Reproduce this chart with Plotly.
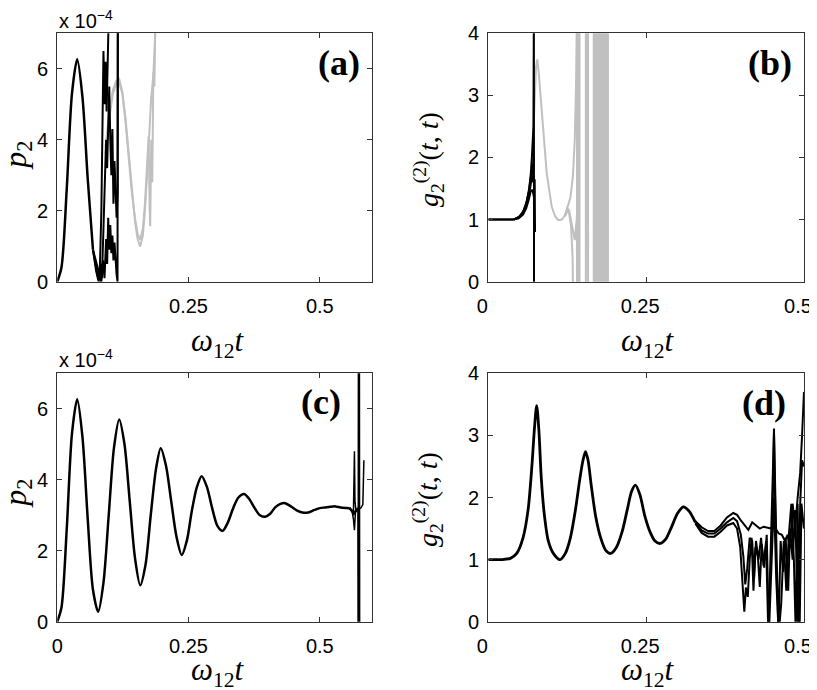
import plotly.graph_objects as go

# ---- panel (c): p2 (units of 1e-4), smooth part shared by all curves
t_c = [0, 0.008, 0.018, 0.028, 0.038, 0.048, 0.058, 0.068, 0.078, 0.088,
       0.098, 0.108, 0.118, 0.128, 0.138, 0.148, 0.158, 0.168, 0.178, 0.188,
       0.197, 0.207, 0.217, 0.227, 0.237, 0.247, 0.256, 0.266, 0.275, 0.285,
       0.295, 0.305, 0.315, 0.325, 0.335, 0.345, 0.356, 0.366, 0.376, 0.386,
       0.396, 0.406, 0.415, 0.425, 0.434, 0.445, 0.456, 0.467, 0.478, 0.49,
       0.50, 0.51, 0.52, 0.53, 0.54, 0.556]
p2_c = [0, 0.4, 2.6, 5.3, 6.27, 5.2, 2.9, 0.9, 0.28, 1.1,
        3.0, 4.9, 5.7, 5.0, 3.4, 1.8, 1.03, 1.6, 3.0, 4.3,
        4.89, 4.4, 3.4, 2.4, 1.88, 2.3, 3.1, 3.8, 4.1, 3.8,
        3.2, 2.7, 2.56, 2.8, 3.2, 3.5, 3.6, 3.45, 3.2, 3.0,
        2.96, 3.05, 3.22, 3.32, 3.34, 3.25, 3.14, 3.08, 3.08, 3.15,
        3.2, 3.22, 3.24, 3.25, 3.22, 3.2]
# breakdown at the end of (c)
c_tail1_t = [0.556, 0.561, 0.564, 0.566, 0.568, 0.572, 0.578, 0.582, 0.584]
c_tail1_y = [3.2, 3.15, 2.9, 2.58, 3.1, 3.18, 3.2, 3.3, 4.55]
c_tail2_t = [0.556, 0.562, 0.564, 0.566, 0.567, 0.569, 0.572]
c_tail2_y = [3.2, 3.1, 3.0, 4.8, 3.4, 3.1, 3.2]
c_tail3_t = [0.556, 0.565, 0.570, 0.5735, 0.574, 0.5745, 0.575]
c_tail3_y = [3.22, 3.05, 3.15, 3.2, -1, 8, -1]

# ---- panel (a): first part as in (c), then numerics break down
a_black1_t = [0.068, 0.074, 0.078, 0.081, 0.084, 0.086, 0.088, 0.090, 0.092, 0.094, 0.096, 0.098]
a_black1_y = [0.9, 0.3, 0.05, 0.3, 2.0, 4.5, 6.5, 5.0, 6.2, 4.8, 6.6, 7.5]
a_black2_t = [0.068, 0.074, 0.079, 0.082, 0.085, 0.088, 0.091, 0.093, 0.095, 0.097,
              0.099, 0.101, 0.103, 0.105, 0.107, 0.109, 0.111, 0.113, 0.115, 0.1155]
a_black2_y = [0.9, 0.4, 0.0, 0.5, 0.1, 1.5, 3.0, 4.0, 3.2, 4.4,
              5.5, 4.0, 3.0, 4.3, 2.2, 3.4, 2.4, 1.8, 2.5, 7.5]
a_black3_t = [0.068, 0.075, 0.080, 0.084, 0.087, 0.090, 0.093, 0.095, 0.097, 0.099,
              0.101, 0.103, 0.105, 0.107, 0.109, 0.111, 0.113, 0.1148, 0.1152]
a_black3_y = [0.9, 0.5, 0.2, 0.0, 0.6, 0.1, 1.2, 0.5, 1.8, 0.9,
              1.6, 0.8, 1.3, 0.6, 1.1, 0.5, 0.2, 0.0, 7.5]
a_gray1_t = [0.092, 0.100, 0.106, 0.112, 0.118, 0.124, 0.130, 0.136, 0.142, 0.148,
             0.153, 0.158, 0.163, 0.167, 0.171, 0.175, 0.179, 0.183, 0.186, 0.188]
a_gray1_y = [3.8, 4.9, 5.4, 5.65, 5.71, 5.35, 4.6, 3.6, 2.6, 1.7,
             1.2, 0.99, 1.3, 2.0, 3.0, 4.1, 5.2, 5.8, 6.6, 7.5]
a_gray2_t = [0.092, 0.100, 0.106, 0.112, 0.118, 0.124, 0.130, 0.136, 0.142, 0.148,
             0.153, 0.158, 0.163, 0.167, 0.171, 0.174, 0.176, 0.177, 0.179, 0.181,
             0.183, 0.185, 0.187]
a_gray2_y = [3.6, 4.7, 5.3, 5.55, 5.6, 5.3, 4.5, 3.5, 2.5, 1.8,
             1.35, 1.18, 1.5, 2.2, 3.2, 4.1, 2.0, 1.56, 4.0, 2.8,
             5.9, 5.5, 7.5]

# ---- panel (b): g2, breaking down
b_flat_t = [0, 0.01, 0.02, 0.03, 0.04]
b_flat_y = [1.0, 1.0, 1.0, 1.0, 1.0]
b_black1_t = [0.04, 0.048, 0.055, 0.060, 0.064, 0.067, 0.069, 0.0705, 0.0715, 0.0722, 0.0724]
b_black1_y = [1.0, 1.04, 1.12, 1.25, 1.45, 1.7, 2.0, 2.3, 2.5, 4.5, -0.5]
b_black2_t = [0.04, 0.048, 0.055, 0.060, 0.064, 0.067, 0.070, 0.0725, 0.0735, 0.074]
b_black2_y = [1.0, 1.02, 1.08, 1.18, 1.32, 1.45, 1.48, 1.35, 1.65, 0.8]
b_black3_t = [0.04, 0.048, 0.055, 0.060, 0.064, 0.067, 0.070, 0.072]
b_black3_y = [1.0, 1.03, 1.1, 1.22, 1.38, 1.55, 1.8, 2.0]
b_black4_t = [0.04, 0.05, 0.056, 0.061, 0.065, 0.068, 0.071]
b_black4_y = [1.0, 1.05, 1.15, 1.3, 1.5, 1.75, 1.6]
b_gray_t = [0.071, 0.0735, 0.0755, 0.0776, 0.080, 0.0835, 0.0871, 0.0925, 0.1004,
            0.106, 0.111, 0.1165, 0.1215]
b_gray_y = [2.3, 3.0, 3.45, 3.58, 3.35, 2.9, 2.44, 1.75, 1.21,
            1.05, 0.99, 1.0, 1.07]
b_gray1_t = [0.1215, 0.125, 0.128, 0.131, 0.134, 0.137, 0.140, 0.1426, 0.1435]
b_gray1_y = [1.07, 1.18, 1.15, 1.0, 0.8, 0.67, 1.0, 1.69, 0.9]
b_gray2_t = [0.1215, 0.125, 0.128, 0.131, 0.1335, 0.1347]
b_gray2_y = [1.05, 1.14, 1.1, 0.9, 0.4, -0.5]
b_gray3_t = [0.1215, 0.125, 0.130, 0.134, 0.137, 0.139, 0.1405]
b_gray3_y = [1.07, 1.2, 1.35, 1.7, 2.3, 3.2, 4.5]
b_spikes_t = [0.1405, 0.1425, 0.1445, 0.1545, 0.1555, 0.158, 0.167, 0.168, 0.170,
              0.1715, 0.173, 0.1745, 0.176, 0.1775, 0.179, 0.1805, 0.182, 0.1835,
              0.185, 0.1865, 0.188, 0.1895]

# ---- panel (d): g2, smooth part shared by all curves
t_d = [0, 0.02, 0.035, 0.045, 0.055, 0.063, 0.069, 0.073, 0.0766, 0.080,
       0.084, 0.089, 0.095, 0.103, 0.1135, 0.122, 0.130, 0.138, 0.145, 0.150,
       0.154, 0.158, 0.163, 0.170, 0.178, 0.186, 0.194, 0.203, 0.212, 0.220,
       0.227, 0.233, 0.240, 0.248, 0.256, 0.264, 0.272, 0.281, 0.290, 0.300,
       0.309, 0.318, 0.328]
g2_d = [1.0, 1.0, 1.02, 1.1, 1.35, 1.8, 2.5, 3.1, 3.48, 3.1,
        2.3, 1.7, 1.3, 1.1, 1.0, 1.1, 1.35, 1.8, 2.3, 2.6,
        2.74, 2.6, 2.2, 1.7, 1.35, 1.15, 1.10, 1.2, 1.45, 1.8,
        2.1, 2.2, 2.05, 1.7, 1.45, 1.3, 1.26, 1.33, 1.52, 1.75,
        1.85, 1.78, 1.6]
d_top_t = [0.328, 0.338, 0.348, 0.358, 0.368, 0.378, 0.388, 0.394, 0.400, 0.406,
           0.412, 0.418, 0.424, 0.430, 0.436, 0.442, 0.448, 0.450, 0.4525, 0.455,
           0.460, 0.465, 0.470, 0.474, 0.478, 0.482, 0.486, 0.490, 0.494, 0.497, 0.500]
d_top_y = [1.62, 1.52, 1.46, 1.46, 1.55, 1.68, 1.75, 1.72, 1.63, 1.55,
           1.48, 1.6, 1.55, 1.5, 1.53, 1.52, 1.5, 1.55, 3.11, 1.5,
           1.42, 1.4, 1.3, 1.4, 1.2, 1.9, 1.5, 2.0, 2.4, 3.0, 3.7]
d_mid_t = [0.328, 0.338, 0.348, 0.358, 0.368, 0.378, 0.388, 0.394, 0.400, 0.404,
           0.407, 0.410, 0.414, 0.418, 0.421, 0.424, 0.428, 0.432, 0.436, 0.440,
           0.4435, 0.447, 0.450, 0.4525, 0.456, 0.4595, 0.463, 0.467, 0.471, 0.475,
           0.478, 0.482, 0.486, 0.491, 0.494, 0.497, 0.500]
d_mid_y = [1.6, 1.47, 1.42, 1.42, 1.5, 1.6, 1.67, 1.62, 1.4, 1.05,
           0.6, 0.85, 1.35, 1.3, 0.7, 1.3, 1.0, 1.35, 0.9, 1.3,
           -0.2, 1.1, 2.5, 3.05, 1.4, -0.2, 1.3, 0.8, 1.35, 0.5,
           1.5, 1.0, 1.8, -0.2, 1.9, 2.6, 2.5]
d_low_t = [0.328, 0.338, 0.348, 0.358, 0.368, 0.378, 0.388, 0.394, 0.399, 0.403,
           0.4055, 0.408, 0.411, 0.414, 0.417, 0.420, 0.423, 0.427, 0.430, 0.433,
           0.437, 0.441, 0.4445, 0.447, 0.4525, 0.456, 0.460, 0.464, 0.468, 0.472,
           0.476, 0.480, 0.484, 0.487, 0.490, 0.493, 0.496, 0.500]
d_low_y = [1.58, 1.43, 1.37, 1.37, 1.45, 1.55, 1.59, 1.5, 1.2, 0.6,
           0.16, 0.55, 0.4, 1.0, 1.35, 0.5, 1.2, 1.05, 0.56, 1.25,
           0.87, 1.4, -0.2, 0.5, 2.0, 0.7, -0.2, 0.3, 1.3, 0.5,
           1.4, 1.9, 1.0, -0.2, 1.9, -0.2, 1.9, 1.5]

BLACK = "black"
GRAY = "#c0c0c0"

fig = go.Figure()


def add(x, y, axis, color=BLACK, width=2, shape="linear"):
    fig.add_trace(
        go.Scatter(
            x=x, y=y, mode="lines",
            line={"color": color, "width": width, "shape": shape, "smoothing": 0.8},
            xaxis="x" + axis, yaxis="y" + axis,
            showlegend=False, hoverinfo="skip",
        )
    )


# (a)
add(a_gray1_t, a_gray1_y, "1", GRAY)
add(a_gray2_t, a_gray2_y, "1", GRAY)
add(t_c[:8], p2_c[:8], "1", width=2.5, shape="spline")
add(a_black1_t, a_black1_y, "1")
add(a_black2_t, a_black2_y, "1")
add(a_black3_t, a_black3_y, "1")

# (b)
spike_x, spike_y = [], []
for i, t in enumerate(b_spikes_t):
    lo, hi = (-0.5, 4.5) if i % 2 == 0 else (4.5, -0.5)
    spike_x += [t, t]
    spike_y += [lo, hi]
add(spike_x, spike_y, "2", GRAY)
add(b_gray_t, b_gray_y, "2", GRAY)
add(b_gray1_t, b_gray1_y, "2", GRAY)
add(b_gray2_t, b_gray2_y, "2", GRAY)
add(b_gray3_t, b_gray3_y, "2", GRAY)
add(b_flat_t, b_flat_y, "2", width=2.5)
add(b_black1_t, b_black1_y, "2")
add(b_black2_t, b_black2_y, "2")
add(b_black3_t, b_black3_y, "2")
add(b_black4_t, b_black4_y, "2")

# (c)
add(t_c, p2_c, "3", width=2.5, shape="spline")
add(c_tail1_t, c_tail1_y, "3", width=1.5)
add(c_tail2_t, c_tail2_y, "3", width=1.5)
add(c_tail3_t, c_tail3_y, "3", width=2.5)

# (d)
add(t_d, g2_d, "4", width=2.8, shape="spline")
add(d_top_t, d_top_y, "4")
add(d_mid_t, d_mid_y, "4")
add(d_low_t, d_low_y, "4")

tick_font = {"family": "Liberation Sans, Arial, sans-serif", "size": 20, "color": "black"}
# the page body adds an 8 px offset, so the figure is 809 x 682
xa = [0.0609, 0.4503]
xb = [0.5937, 0.9839]
y_top = [0.5987, 0.9629]
y_bot = [0.1001, 0.4644]


def xaxis(domain, anchor, rng, vals, text, shift=0):
    return dict(
        domain=domain, anchor=anchor, range=rng, tickvals=vals, ticktext=text,
        showline=True, linecolor="#333", linewidth=1.2, mirror="ticks",
        ticks="inside", ticklen=5, tickcolor="#333", showgrid=False, zeroline=False,
        tickfont=tick_font, ticklabelstandoff=6, automargin=False,
        ticklabeloverflow="allow", ticklabelshift=shift,
    )


def yaxis(domain, anchor, rng, vals):
    return dict(
        domain=domain, anchor=anchor, range=rng, tickvals=vals,
        showline=True, linecolor="#333", linewidth=1.2, mirror="ticks",
        ticks="inside", ticklen=5, tickcolor="#333", showgrid=False, zeroline=False,
        tickfont=tick_font, ticklabelstandoff=4, automargin=False,
        ticklabeloverflow="allow",
    )


fig.update_layout(
    width=809, height=682, autosize=False,
    margin={"l": 0, "r": 0, "t": 0, "b": 0, "pad": 0, "autoexpand": False},
    paper_bgcolor="white", plot_bgcolor="white",
    xaxis1=xaxis(xa, "y1", [0, 0.6], [0.25, 0.5], ["0.25", "0.5"]),
    yaxis1=yaxis(y_top, "x1", [0, 7], [0, 2, 4, 6]),
    xaxis2=xaxis(xb, "y2", [0, 0.5], [0, 0.25, 0.5], ["0", "0.25", "0.5"], -6),
    yaxis2=yaxis(y_top, "x2", [0, 4], [0, 1, 2, 3, 4]),
    xaxis3=xaxis(xa, "y3", [0, 0.6], [0, 0.25, 0.5], ["0", "0.25", "0.5"]),
    yaxis3=yaxis(y_bot, "x3", [0, 7], [0, 2, 4, 6]),
    xaxis4=xaxis(xb, "y4", [0, 0.5], [0, 0.25, 0.5], ["0", "0.25", "0.5"], -6),
    yaxis4=yaxis(y_bot, "x4", [0, 4], [0, 1, 2, 3, 4]),
)

serif = "Liberation Serif, DejaVu Serif, serif"
notes = [
    # panel tags
    ("<b>(a)</b>", 0.4376, 0.9194, "right", 0, 36),
    ("<b>(b)</b>", 0.9716, 0.9194, "right", 0, 36),
    ("<b>(c)</b>", 0.4141, 0.4227, "right", 0, 36),
    ("<b>(d)</b>", 0.9645, 0.4204, "right", 0, 36),
    # axis titles
    ("<i>ω</i><sub>12</sub><i>t</i>", 0.2596, 0.5088, "center", 0, 31),
    ("<i>ω</i><sub>12</sub><i>t</i>", 0.7911, 0.5088, "center", 0, 31),
    ("<i>ω</i><sub>12</sub><i>t</i>", 0.2596, 0.026, "center", 0, 31),
    ("<i>ω</i><sub>12</sub><i>t</i>", 0.7911, 0.026, "center", 0, 31),
    ("<i>p</i><sub>2</sub>", 0.012, 0.7845, "center", -90, 32),
    ("<i>p</i><sub>2</sub>", 0.012, 0.2889, "center", -90, 32),
    ("<i>g</i><sub>2</sub><sup>(2)</sup>(<i>t</i>, <i>t</i>)", 0.5192, 0.7771, "center", -90, 28),
    ("<i>g</i><sub>2</sub><sup>(2)</sup>(<i>t</i>, <i>t</i>)", 0.5192, 0.2786, "center", -90, 28),
]
for text, x, y, xanchor, angle, size in notes:
    fig.add_annotation(
        text=text, x=x, y=y, xref="paper", yref="paper",
        xanchor=xanchor, yanchor="middle", textangle=angle,
        showarrow=False, font={"family": serif, "size": size, "color": "black"},
    )

for y in [0.983, 0.4855]:
    fig.add_annotation(
        text="x 10<sup>−4</sup>", x=0.0606, y=y, xref="paper", yref="paper",
        xanchor="left", yanchor="middle", showarrow=False,
        font={"family": "Liberation Sans, Arial, sans-serif", "size": 20, "color": "black"},
    )

fig.write_html("out.html")
